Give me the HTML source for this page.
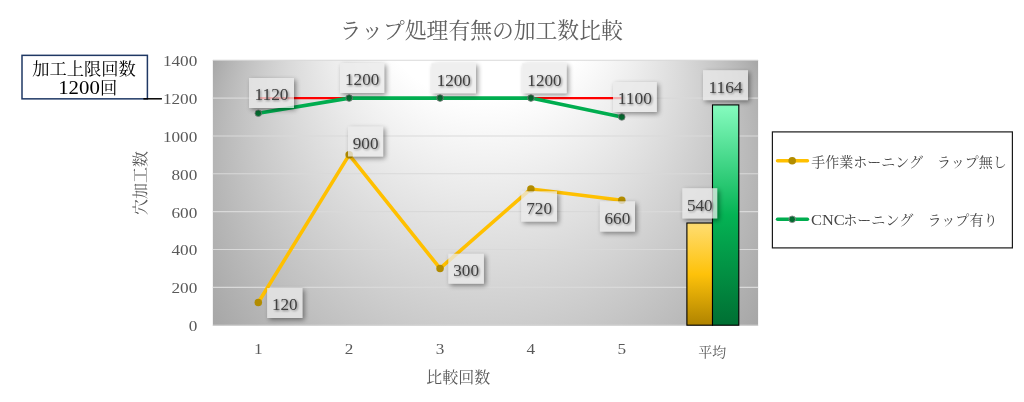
<!DOCTYPE html><html lang="ja"><head><meta charset="utf-8"><title>ラップ処理有無の加工数比較</title>
<style>html,body{margin:0;padding:0;background:#fff;}body{width:1024px;height:402px;overflow:hidden;}svg{display:block;}text{font-family:'Liberation Serif','Noto Serif CJK JP','Noto Serif CJK SC',serif;}</style></head><body>
<svg width="1024" height="402" viewBox="0 0 1024 402">
<defs>
<radialGradient id="bgH" gradientUnits="userSpaceOnUse" cx="485.5" cy="-151.8" r="0.01" fx="485.5" fy="192.7" fr="303.1">
<stop offset="0" stop-color="#a6a6a6"/><stop offset="0.61" stop-color="#ffffff"/><stop offset="1" stop-color="#ffffff"/>
</radialGradient>
<linearGradient id="gY" x1="0" y1="0" x2="0" y2="1">
<stop offset="0" stop-color="#ffdd72"/><stop offset="0.5" stop-color="#fec20a"/><stop offset="1" stop-color="#af8300"/>
</linearGradient>
<linearGradient id="gG" x1="0" y1="0" x2="0" y2="1">
<stop offset="0" stop-color="#86fcbf"/><stop offset="0.5" stop-color="#04b354"/><stop offset="1" stop-color="#006f33"/>
</linearGradient>
<filter id="sh" x="-30%" y="-30%" width="170%" height="170%">
<feGaussianBlur in="SourceAlpha" stdDeviation="2.6"/><feOffset dx="1.8" dy="1.8"/><feComponentTransfer><feFuncA type="linear" slope="0.42"/></feComponentTransfer><feComposite in2="SourceAlpha" operator="out"/>
</filter>
<filter id="tsh" x="-20%" y="-30%" width="140%" height="170%">
<feGaussianBlur in="SourceAlpha" stdDeviation="0.8"/><feOffset dx="0.8" dy="0.9"/><feComponentTransfer><feFuncA type="linear" slope="0.45"/></feComponentTransfer>
<feMerge><feMergeNode/><feMergeNode in="SourceGraphic"/></feMerge>
</filter>
</defs>
<rect width="1024" height="402" fill="#fff"/>
<rect x="212.85" y="59.95" width="545.25" height="265.95" fill="url(#bgH)"/>
<line x1="212.85" x2="758.1" y1="325.20" y2="325.20" stroke="#d9d9d9" stroke-width="1.1"/>
<line x1="212.85" x2="758.1" y1="287.35" y2="287.35" stroke="#d9d9d9" stroke-width="1.1"/>
<line x1="212.85" x2="758.1" y1="249.50" y2="249.50" stroke="#d9d9d9" stroke-width="1.1"/>
<line x1="212.85" x2="758.1" y1="211.65" y2="211.65" stroke="#d9d9d9" stroke-width="1.1"/>
<line x1="212.85" x2="758.1" y1="173.80" y2="173.80" stroke="#d9d9d9" stroke-width="1.1"/>
<line x1="212.85" x2="758.1" y1="135.95" y2="135.95" stroke="#d9d9d9" stroke-width="1.1"/>
<line x1="212.85" x2="758.1" y1="98.10" y2="98.10" stroke="#d9d9d9" stroke-width="1.1"/>
<line x1="212.85" x2="758.1" y1="60.25" y2="60.25" stroke="#d9d9d9" stroke-width="1.1"/>
<text x="197.3" y="331.10" font-size="15.6" fill="#595959" text-anchor="end" textLength="8.6" lengthAdjust="spacingAndGlyphs">0</text>
<text x="197.3" y="293.25" font-size="15.6" fill="#595959" text-anchor="end" textLength="25.8" lengthAdjust="spacingAndGlyphs">200</text>
<text x="197.3" y="255.40" font-size="15.6" fill="#595959" text-anchor="end" textLength="25.8" lengthAdjust="spacingAndGlyphs">400</text>
<text x="197.3" y="217.55" font-size="15.6" fill="#595959" text-anchor="end" textLength="25.8" lengthAdjust="spacingAndGlyphs">600</text>
<text x="197.3" y="179.70" font-size="15.6" fill="#595959" text-anchor="end" textLength="25.8" lengthAdjust="spacingAndGlyphs">800</text>
<text x="197.3" y="141.85" font-size="15.6" fill="#595959" text-anchor="end" textLength="34.4" lengthAdjust="spacingAndGlyphs">1000</text>
<text x="197.3" y="104.00" font-size="15.6" fill="#595959" text-anchor="end" textLength="34.4" lengthAdjust="spacingAndGlyphs">1200</text>
<text x="197.3" y="66.15" font-size="15.6" fill="#595959" text-anchor="end" textLength="34.4" lengthAdjust="spacingAndGlyphs">1400</text>
<text x="258.29" y="354.3" font-size="15.6" fill="#595959" text-anchor="middle" textLength="8.6" lengthAdjust="spacingAndGlyphs">1</text>
<text x="349.16" y="354.3" font-size="15.6" fill="#595959" text-anchor="middle" textLength="8.6" lengthAdjust="spacingAndGlyphs">2</text>
<text x="440.04" y="354.3" font-size="15.6" fill="#595959" text-anchor="middle" textLength="8.6" lengthAdjust="spacingAndGlyphs">3</text>
<text x="530.91" y="354.3" font-size="15.6" fill="#595959" text-anchor="middle" textLength="8.6" lengthAdjust="spacingAndGlyphs">4</text>
<text x="621.79" y="354.3" font-size="15.6" fill="#595959" text-anchor="middle" textLength="8.6" lengthAdjust="spacingAndGlyphs">5</text>
<text x="712.36" y="357" font-size="14" fill="#595959" text-anchor="middle">平均</text>
<text x="481.3" y="38.3" font-size="21.8" fill="#606060" text-anchor="middle">ラップ処理有無の加工数比較</text>
<text x="458.2" y="382.5" font-size="16" fill="#595959" text-anchor="middle">比較回数</text>
<text transform="translate(146,183) rotate(-90)" font-size="16" fill="#595959" text-anchor="middle">穴加工数</text>
<rect x="686.9" y="223.00" width="25.6" height="102.19" fill="url(#gY)" stroke="#000" stroke-width="1.1"/>
<rect x="712.5" y="104.91" width="26.3" height="220.29" fill="url(#gG)" stroke="#000" stroke-width="1.1"/>
<line x1="258.29" x2="621.79" y1="98.10" y2="98.10" stroke="#ff0000" stroke-width="2.2"/>
<polyline points="258.29,113.24 349.16,98.10 440.04,98.10 530.91,98.10 621.79,117.03" fill="none" stroke="#00ad4f" stroke-width="3.6" stroke-linejoin="round" stroke-linecap="round"/>
<circle cx="258.29" cy="113.24" r="3.3" fill="#046b30" stroke="#7f7f7f" stroke-width="0.8"/>
<circle cx="349.16" cy="98.10" r="3.3" fill="#046b30" stroke="#7f7f7f" stroke-width="0.8"/>
<circle cx="440.04" cy="98.10" r="3.3" fill="#046b30" stroke="#7f7f7f" stroke-width="0.8"/>
<circle cx="530.91" cy="98.10" r="3.3" fill="#046b30" stroke="#7f7f7f" stroke-width="0.8"/>
<circle cx="621.79" cy="117.03" r="3.3" fill="#046b30" stroke="#7f7f7f" stroke-width="0.8"/>
<polyline points="258.29,302.49 349.16,154.87 440.04,268.43 530.91,188.94 621.79,200.30" fill="none" stroke="#ffc000" stroke-width="3.6" stroke-linejoin="round" stroke-linecap="round"/>
<circle cx="258.29" cy="302.49" r="3.75" fill="#b28c00"/>
<circle cx="349.16" cy="154.87" r="3.75" fill="#b28c00"/>
<circle cx="440.04" cy="268.43" r="3.75" fill="#b28c00"/>
<circle cx="530.91" cy="188.94" r="3.75" fill="#b28c00"/>
<circle cx="621.79" cy="200.30" r="3.75" fill="#b28c00"/>
<rect x="249" y="78" width="45" height="30" fill="#000" filter="url(#sh)"/>
<rect x="249" y="78" width="45" height="30" fill="#eaeaea" fill-opacity="0.76"/>
<text x="271.5" y="100.4" font-size="16.3" fill="#404040" text-anchor="middle" textLength="34.2" lengthAdjust="spacingAndGlyphs" filter="url(#tsh)">1120</text>
<rect x="340" y="63" width="44.3" height="30" fill="#000" filter="url(#sh)"/>
<rect x="340" y="63" width="44.3" height="30" fill="#eaeaea" fill-opacity="0.76"/>
<text x="362.15" y="85.4" font-size="16.3" fill="#404040" text-anchor="middle" textLength="34.2" lengthAdjust="spacingAndGlyphs" filter="url(#tsh)">1200</text>
<rect x="431.5" y="63.3" width="44.5" height="30" fill="#000" filter="url(#sh)"/>
<rect x="431.5" y="63.3" width="44.5" height="30" fill="#eaeaea" fill-opacity="0.76"/>
<text x="453.75" y="85.7" font-size="16.3" fill="#404040" text-anchor="middle" textLength="34.2" lengthAdjust="spacingAndGlyphs" filter="url(#tsh)">1200</text>
<rect x="522.3" y="63.3" width="44.3" height="30" fill="#000" filter="url(#sh)"/>
<rect x="522.3" y="63.3" width="44.3" height="30" fill="#eaeaea" fill-opacity="0.76"/>
<text x="544.45" y="85.7" font-size="16.3" fill="#404040" text-anchor="middle" textLength="34.2" lengthAdjust="spacingAndGlyphs" filter="url(#tsh)">1200</text>
<rect x="613" y="82" width="43.8" height="30" fill="#000" filter="url(#sh)"/>
<rect x="613" y="82" width="43.8" height="30" fill="#eaeaea" fill-opacity="0.76"/>
<text x="634.9" y="104.4" font-size="16.3" fill="#404040" text-anchor="middle" textLength="34.2" lengthAdjust="spacingAndGlyphs" filter="url(#tsh)">1100</text>
<rect x="348" y="126.5" width="35.2" height="30" fill="#000" filter="url(#sh)"/>
<rect x="348" y="126.5" width="35.2" height="30" fill="#eaeaea" fill-opacity="0.76"/>
<text x="365.6" y="148.9" font-size="16.3" fill="#404040" text-anchor="middle" textLength="25.7" lengthAdjust="spacingAndGlyphs" filter="url(#tsh)">900</text>
<rect x="267.1" y="288" width="35.4" height="30" fill="#000" filter="url(#sh)"/>
<rect x="267.1" y="288" width="35.4" height="30" fill="#eaeaea" fill-opacity="0.76"/>
<text x="284.8" y="310.4" font-size="16.3" fill="#404040" text-anchor="middle" textLength="25.7" lengthAdjust="spacingAndGlyphs" filter="url(#tsh)">120</text>
<rect x="448.3" y="253.7" width="35.6" height="30" fill="#000" filter="url(#sh)"/>
<rect x="448.3" y="253.7" width="35.6" height="30" fill="#eaeaea" fill-opacity="0.76"/>
<text x="466.1" y="276.1" font-size="16.3" fill="#404040" text-anchor="middle" textLength="25.7" lengthAdjust="spacingAndGlyphs" filter="url(#tsh)">300</text>
<rect x="521.2" y="191.3" width="35.8" height="30.3" fill="#000" filter="url(#sh)"/>
<rect x="521.2" y="191.3" width="35.8" height="30.3" fill="#eaeaea" fill-opacity="0.76"/>
<text x="539.1" y="213.7" font-size="16.3" fill="#404040" text-anchor="middle" textLength="25.7" lengthAdjust="spacingAndGlyphs" filter="url(#tsh)">720</text>
<rect x="599.8" y="201.3" width="35.2" height="30.3" fill="#000" filter="url(#sh)"/>
<rect x="599.8" y="201.3" width="35.2" height="30.3" fill="#eaeaea" fill-opacity="0.76"/>
<text x="617.4" y="223.7" font-size="16.3" fill="#404040" text-anchor="middle" textLength="25.7" lengthAdjust="spacingAndGlyphs" filter="url(#tsh)">660</text>
<rect x="682.3" y="188.2" width="35" height="30.3" fill="#000" filter="url(#sh)"/>
<rect x="682.3" y="188.2" width="35" height="30.3" fill="#eaeaea" fill-opacity="0.76"/>
<text x="699.8" y="210.6" font-size="16.3" fill="#404040" text-anchor="middle" textLength="25.7" lengthAdjust="spacingAndGlyphs" filter="url(#tsh)">540</text>
<rect x="703" y="70.2" width="45" height="30" fill="#000" filter="url(#sh)"/>
<rect x="703" y="70.2" width="45" height="30" fill="#eaeaea" fill-opacity="0.76"/>
<text x="725.5" y="92.6" font-size="16.3" fill="#404040" text-anchor="middle" textLength="34.2" lengthAdjust="spacingAndGlyphs" filter="url(#tsh)">1164</text>
<rect x="772.4" y="131.9" width="240" height="116" fill="#fff" stroke="#1a1a1a" stroke-width="1.2"/>
<line x1="777.5" x2="807.5" y1="160.7" y2="160.7" stroke="#ffc000" stroke-width="3.4" stroke-linecap="round"/><circle cx="792.2" cy="160.7" r="3.8" fill="#b28c00"/>
<text x="811.2" y="166.8" font-size="14" fill="#464646" xml:space="preserve">手作業ホーニング　ラップ無し</text>
<line x1="777.5" x2="807.5" y1="219.3" y2="219.3" stroke="#00ad4f" stroke-width="3.4" stroke-linecap="round"/><circle cx="792.2" cy="219.3" r="3.3" fill="#046b30" stroke="#8a8a8a" stroke-width="0.9"/>
<text x="811" y="224.9" font-size="14.1" fill="#464646" xml:space="preserve"><tspan font-size="15.4" textLength="33.6" lengthAdjust="spacingAndGlyphs">CNC</tspan><tspan dx="-1.4">ホーニング　ラップ有り</tspan></text>
<rect x="22" y="55.35" width="125.4" height="43.5" fill="#fff" stroke="#1f3864" stroke-width="1.5"/>
<line x1="143.4" x2="161.9" y1="98.8" y2="98.8" stroke="#000" stroke-width="1.5"/>
<text x="84" y="74.6" font-size="17.3" fill="#000" text-anchor="middle">加工上限回数</text>
<text x="58.2" y="93.6" font-size="17.3" fill="#000" xml:space="preserve"><tspan font-size="17.8" textLength="41.6" lengthAdjust="spacingAndGlyphs">1200</tspan><tspan dx="0.3">回</tspan></text>
</svg></body></html>
